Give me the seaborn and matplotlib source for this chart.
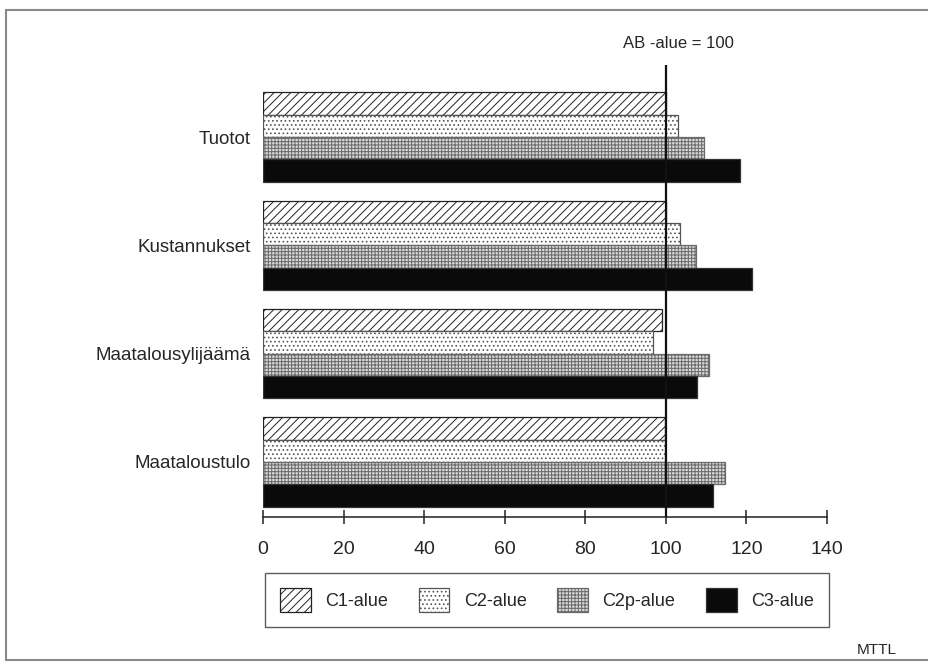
import matplotlib
matplotlib.use("Agg")
import matplotlib.pyplot as plt
import matplotlib.patches as mpatches
from matplotlib.lines import Line2D
import seaborn as sns
import pandas as pd

# data (AB-alue = 100)
categories = ["Tuotot", "Kustannukset", "Maatalousylijäämä", "Maataloustulo"]
areas = ["C1-alue", "C2-alue", "C2p-alue", "C3-alue"]
c1 = [100, 100, 99, 99.7]
c2 = [103, 103.5, 96.7, 99.7]
c2p = [109.5, 107.5, 110.8, 114.7]
c3 = [118.5, 121.5, 107.7, 111.8]
x_ticks = [0, 20, 40, 60, 80, 100, 120, 140]

rows = []
for area, vals in zip(areas, [c1, c2, c2p, c3]):
    for cat, v in zip(categories, vals):
        rows.append({"cat": cat, "area": area, "value": v})
df = pd.DataFrame(rows)

# fill styles imitating the printed patterns
styles = {
    "C1-alue": dict(facecolor="white", edgecolor="#222222", hatch="////"),
    "C2-alue": dict(facecolor="white", edgecolor="#555555", hatch="...."),
    "C2p-alue": dict(facecolor="#d8d8d8", edgecolor="#6a6a6a", hatch="+++++"),
    "C3-alue": dict(facecolor="#0a0a0a", edgecolor="#333333", hatch=None),
}

sns.set_style("white")
plt.rcParams["font.family"] = ["Liberation Sans", "DejaVu Sans"]
plt.rcParams["hatch.linewidth"] = 0.7

W, H = 929, 663
fig = plt.figure(figsize=(W / 100, H / 100), dpi=100)
ax = fig.add_axes([263 / W, 1 - 517 / H, (827 - 263) / W, (517 - 65) / H])

sns.barplot(data=df, y="cat", x="value", hue="area", orient="h",
            order=categories, hue_order=areas, width=0.825,
            saturation=1, legend=False, ax=ax)

for area, cont in zip(areas, ax.containers):
    st = styles[area]
    for p in cont:
        p.set_facecolor(st["facecolor"])
        p.set_edgecolor(st["edgecolor"])
        p.set_linewidth(0.9)
        if st["hatch"]:
            p.set_hatch(st["hatch"])

ax.axvline(100, color="#111111", lw=1.6, zorder=5)

ax.set_xlim(0, 140)
ax.set_ylim(3.508, -0.665)
ax.set_xticks(x_ticks)
ax.set_xticklabels([str(t) for t in x_ticks], fontsize=14)
ax.tick_params(axis="x", bottom=True, direction="inout", length=10, width=1.1,
               color="#222222", pad=12)
ax.tick_params(axis="y", length=0, pad=9, labelsize=13.5)
ax.set_xlabel("")
ax.set_ylabel("")
for s in ["top", "right", "left"]:
    ax.spines[s].set_visible(False)
ax.spines["bottom"].set_color("#222222")
ax.spines["bottom"].set_linewidth(1.1)

fig.text(678 / W, 1 - 44 / H, "AB -alue = 100", ha="center", va="center", fontsize=12)

handles = [mpatches.Patch(facecolor=styles[a]["facecolor"], edgecolor=styles[a]["edgecolor"],
                          hatch=styles[a]["hatch"], linewidth=0.9) for a in areas]
leg = fig.legend(handles, areas, loc="center", bbox_to_anchor=(547 / W, 1 - 600 / H),
                 ncol=4, fontsize=13, frameon=True, fancybox=False,
                 handlelength=1.7, handleheight=1.6, handletextpad=0.8,
                 columnspacing=1.7, borderpad=0.85)
leg.get_frame().set_edgecolor("#333333")
leg.get_frame().set_linewidth(1.0)

fig.text(877 / W, 1 - 650 / H, "MTTL", ha="center", va="center", fontsize=11)

# outer frame of the scanned page
frame_kw = dict(color="#8a8a8a", lw=1.5, transform=fig.transFigure)
fig.add_artist(Line2D([6 / W, 6 / W], [1 - 10 / H, 1 - 660 / H], **frame_kw))
fig.add_artist(Line2D([6 / W, 1], [1 - 10 / H, 1 - 10 / H], **frame_kw))
fig.add_artist(Line2D([6 / W, 1], [1 - 660 / H, 1 - 660 / H], **frame_kw))

fig.savefig("out.png", dpi=100)
